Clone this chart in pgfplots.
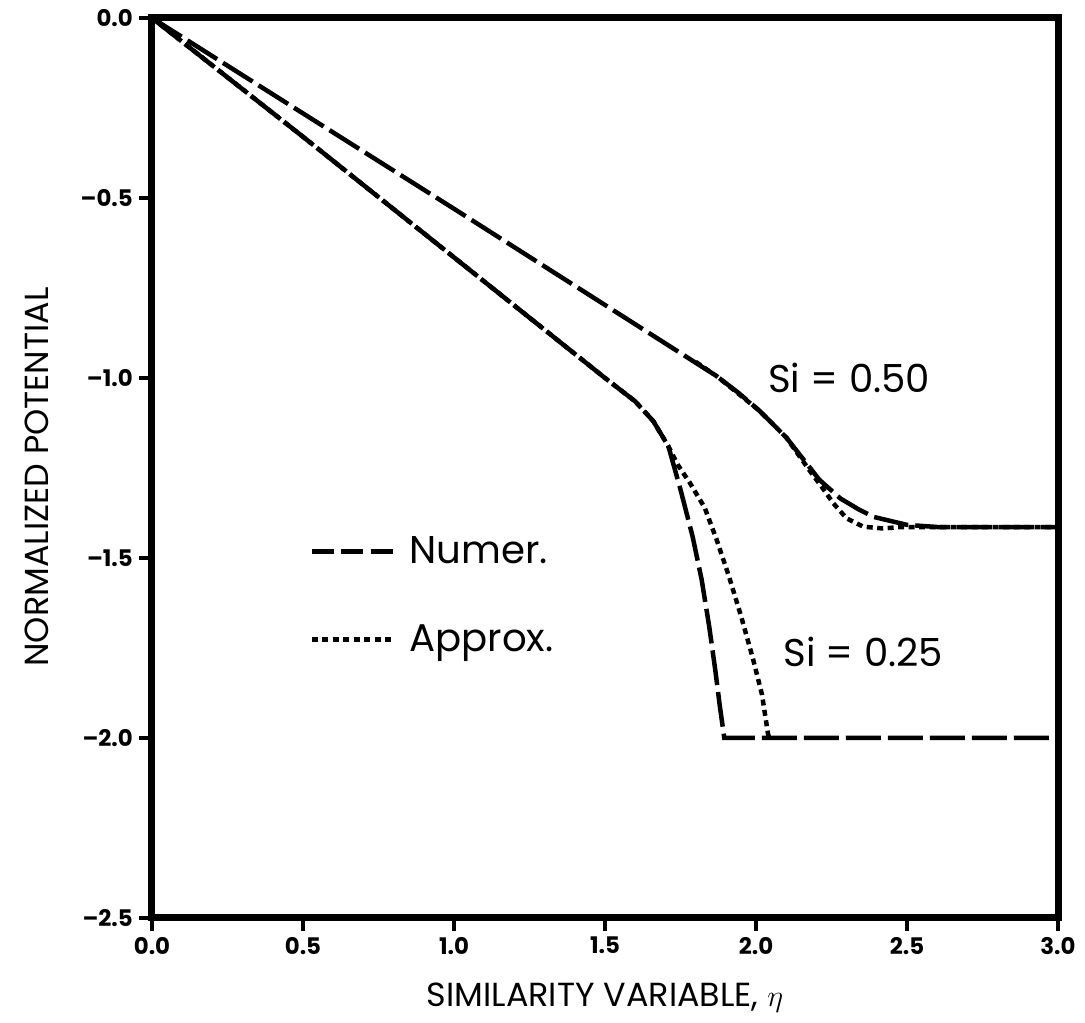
\documentclass[border=0pt]{standalone}
\usepackage{fontspec}
\setmainfont{Poppins}
\usepackage{pgfplots}
\pgfplotsset{compat=1.18}

\begin{document}
\begin{tikzpicture}
\begin{axis}[
    name=main,
    scale only axis,
    width=181.2mm,
    height=180mm,
    xmin=0, xmax=3,
    ymin=-2.5, ymax=0,
    axis line style={line width=1.4mm, line cap=rect},
    xtick={0,0.5,1,1.5,2,2.5,3},
    xticklabels={0.0,0.5,1.0,1.5,2.0,2.5,3.0},
    ytick={-2.5,-2,-1.5,-1,-0.5,0},
    yticklabels={–2.5,–2.0,–1.5,–1.0,–0.5,0.0},
    xtick pos=bottom, ytick pos=left,
    tick align=outside,
    major tick length=2.6mm,
    major tick style={line width=0.8mm, black},
    tick label style={font=\bfseries\fontsize{13}{15}\selectfont},
    xlabel={SIMILARITY VARIABLE, $\eta$},
    ylabel={NORMALIZED POTENTIAL},
    label style={font=\fontsize{19}{21}\selectfont},
    xlabel style={at={(axis description cs:0.5,-0.088)}, anchor=center},
    ylabel style={at={(axis description cs:-0.127,0.49)}, anchor=center},
    clip=false,
    legend cell align=left,
    legend style={draw=none, fill=none, at={(axis cs:0.52,-1.43)}, anchor=north west,
        font=\fontsize{22}{26}\selectfont, row sep=10.3mm, inner sep=0pt},
    legend image code/.code={\draw[#1, line width=0.9mm] (0mm,0mm) -- (16.4mm,0mm);},
    numer/.style={black, line width=0.9mm, dash pattern=on 7mm off 1.4mm},
    approx/.style={black, line width=0.9mm, dash pattern=on 1.2mm off 0.9mm},
]
% Si = 0.50, numerical
\addplot[numer, legend image post style={dash pattern=on 4.4mm off 1.5mm}] coordinates {
    (0,0)(1.0,-0.530)(1.87,-0.995)(1.94,-1.04)(2.01,-1.09)(2.10,-1.165)(2.21,-1.283)
    (2.28,-1.335)(2.34,-1.365)(2.39,-1.386)(2.50,-1.408)(2.60,-1.414)(3.0,-1.414)
};
% Si = 0.25, approximate
\addplot[approx] coordinates {
    (0,0)(0.5,-0.33)(1.0,-0.665)(1.5,-1.0)(1.6,-1.065)(1.66,-1.12)(1.71,-1.19)
    (1.74,-1.24)(1.78,-1.29)(1.83,-1.36)(1.87,-1.45)(1.91,-1.55)(1.95,-1.66)
    (1.99,-1.78)(2.02,-1.88)(2.04,-1.99)(2.045,-2.0)
};
\legend{\hspace{2mm}Numer., \hspace{2mm}Approx.}
% Si = 0.25, numerical
\addplot[numer, forget plot] coordinates {
    (0,0)(0.5,-0.33)(1.0,-0.665)(1.5,-1.0)(1.6,-1.065)(1.66,-1.12)(1.71,-1.19)
    (1.75,-1.31)(1.79,-1.44)(1.82,-1.56)(1.845,-1.69)(1.865,-1.81)(1.88,-1.91)
    (1.895,-2.0)(3.0,-2.0)
};
% Si = 0.50, approximate
\addplot[approx, forget plot] coordinates {
    (1.80,-0.955)(1.87,-0.995)(2.01,-1.09)(2.10,-1.165)(2.18,-1.26)(2.22,-1.305)
    (2.256,-1.348)(2.30,-1.39)(2.355,-1.413)(2.42,-1.418)(2.48,-1.414)(3.0,-1.414)
};
\node[anchor=west, font=\fontsize{22}{26}\selectfont] at (axis cs:2.02,-1.0) {Si = 0.50};
\node[anchor=west, font=\fontsize{22}{26}\selectfont] at (axis cs:2.07,-1.76) {Si = 0.25};
\end{axis}
\path ([xshift=-30.4mm, yshift=-21mm]main.south west) rectangle ([xshift=5.4mm, yshift=3.6mm]main.north east);
\end{tikzpicture}
\end{document}
